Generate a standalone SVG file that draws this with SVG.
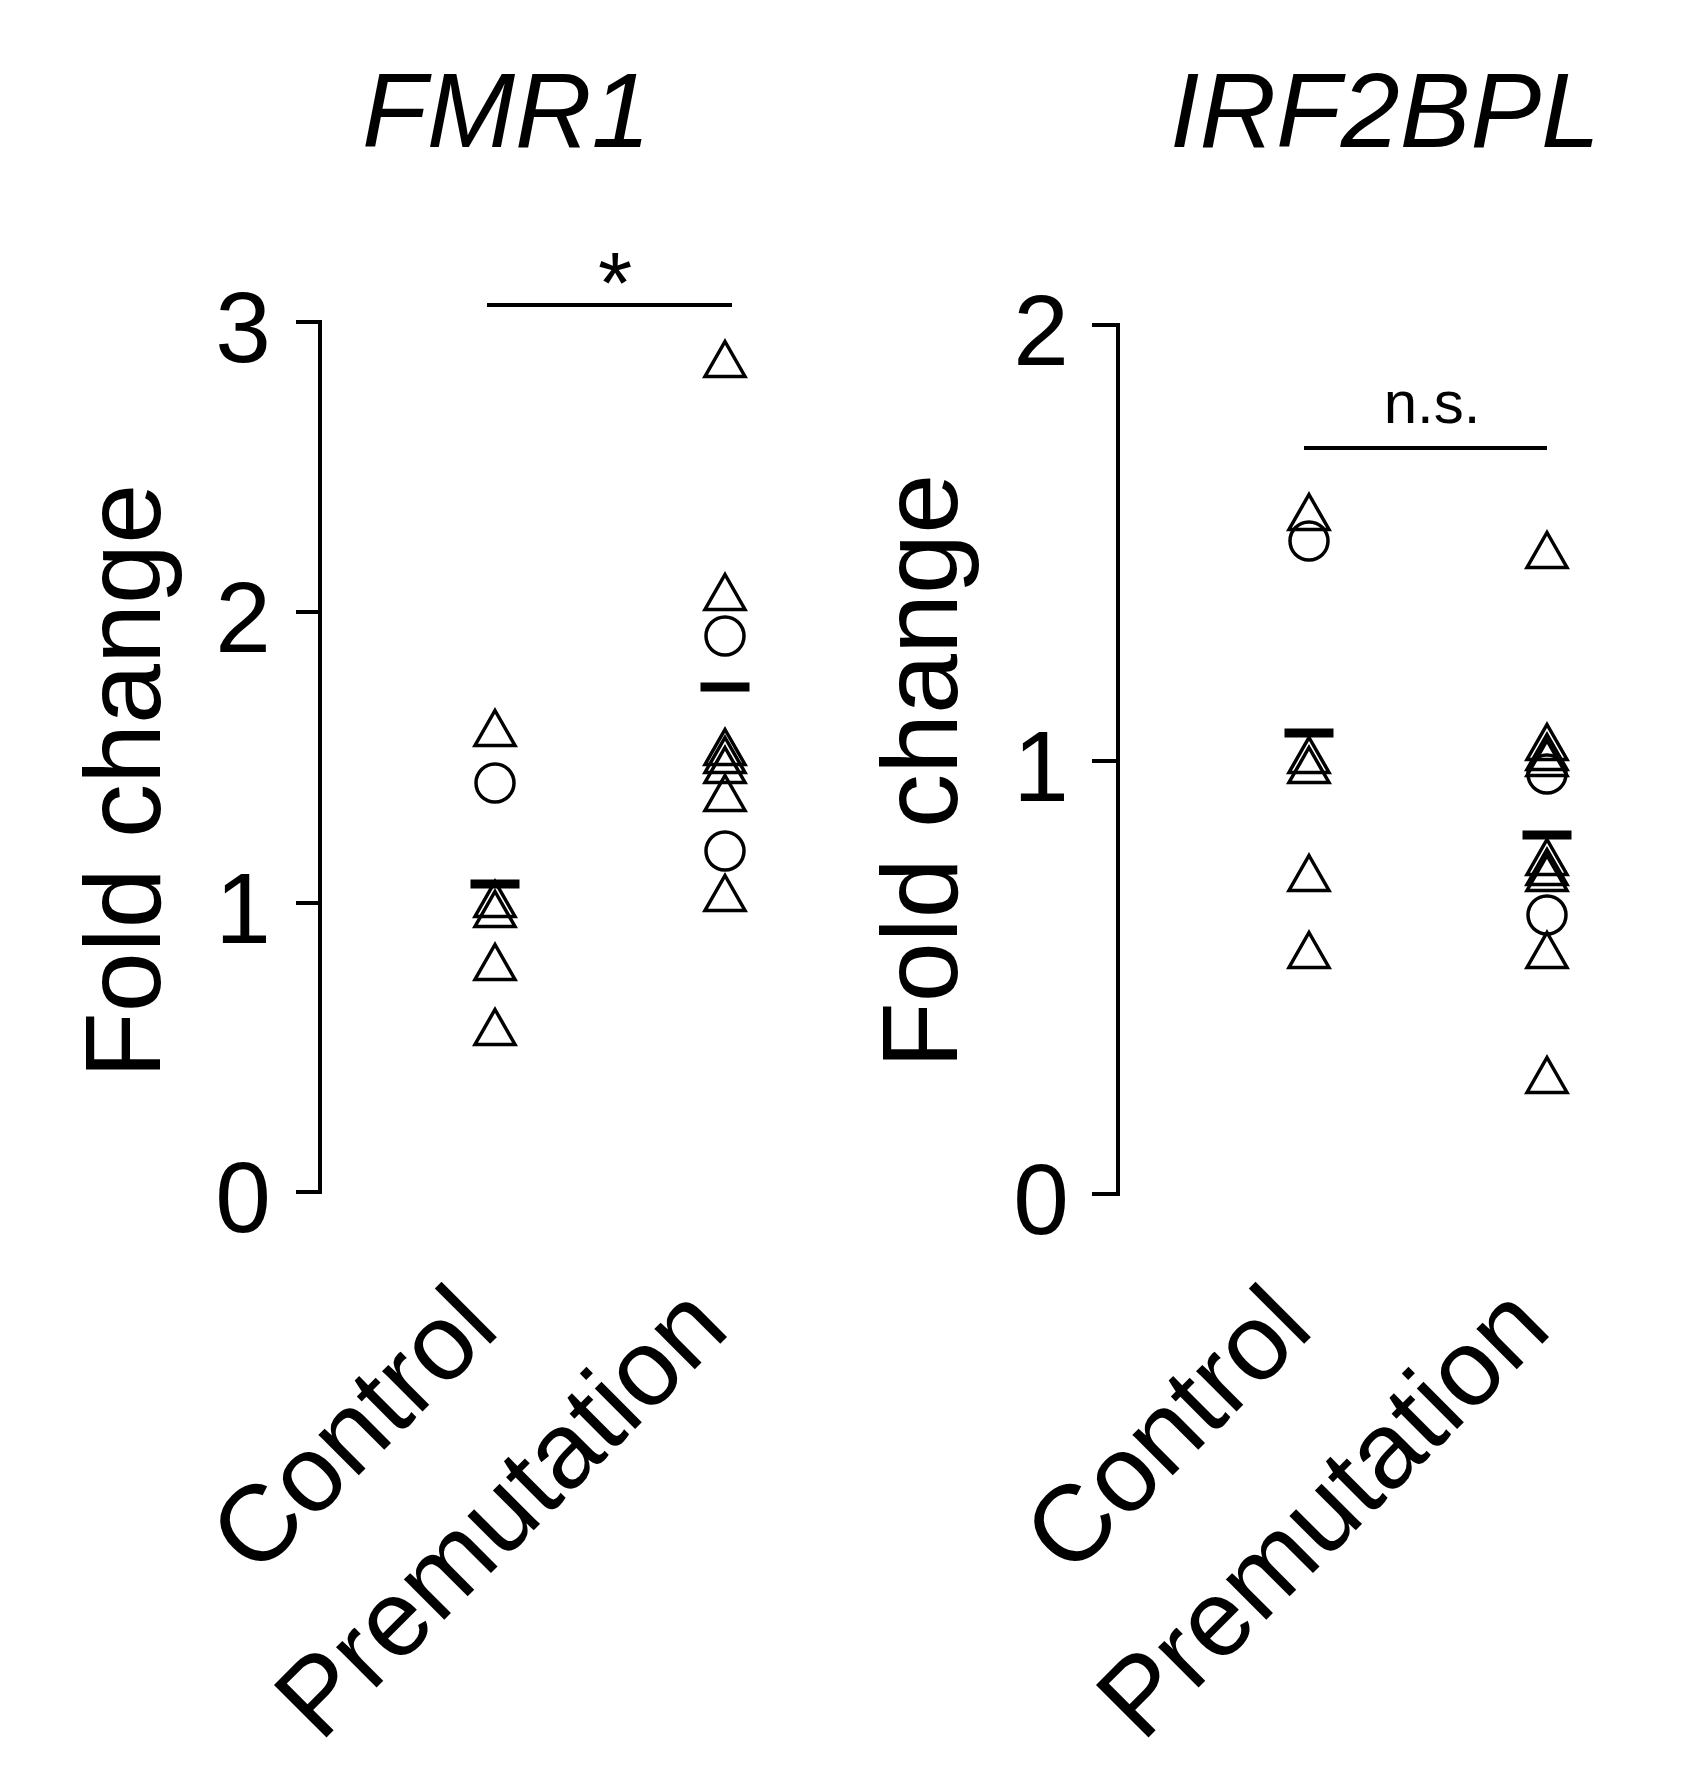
<svg xmlns="http://www.w3.org/2000/svg" width="1688" height="1776" viewBox="0 0 1688 1776">
<style>
text{font-family:"Liberation Sans",Arial,sans-serif;fill:#000}
.ax{stroke:#000;stroke-width:4;fill:none}
.t{fill:none;stroke:#000;stroke-width:3.5}
.m{fill:#000}
.tk{font-size:100px;text-anchor:middle}
.lab{font-size:108px;text-anchor:end}
.yl{font-size:108px;text-anchor:middle}
.ti{font-size:106px;font-style:italic}
</style>
<defs>
<path id="tri" d="M0,-17.5 L20,17.5 L-20,17.5 Z" class="t"/>
<circle id="cir" r="19" class="t"/>
</defs>
<text class="ti" x="362" y="147">FMR1</text>
<text class="ti" x="1170" y="147">IRF2BPL</text>
<g id="left-axis">
<path class="ax" d="M296,322 H320 V1192 H296 M296,612 H320 M296,903 H320"/>
<text class="tk" x="243" y="362">3</text>
<text class="tk" x="243" y="652">2</text>
<text class="tk" x="243" y="943">1</text>
<text class="tk" x="243" y="1232">0</text>
<text class="yl" transform="translate(160,781) rotate(-90)">Fold change</text>
</g>
<g id="right-axis">
<path class="ax" d="M1092,325 H1118 V1194 H1092 M1092,761 H1118"/>
<text class="tk" x="1041" y="365">2</text>
<text class="tk" x="1041" y="801">1</text>
<text class="tk" x="1041" y="1234">0</text>
<text class="yl" transform="translate(957,771) rotate(-90)">Fold change</text>
</g>
<g id="connectors">
<line x1="487" y1="305" x2="732" y2="305" class="ax" stroke-width="5"/>
<line x1="1304" y1="448" x2="1547" y2="448" class="ax" stroke-width="5"/>
</g>
<text x="615" y="313" font-size="88" text-anchor="middle">*</text>
<text x="1432" y="423" font-size="60" text-anchor="middle">n.s.</text>
<g id="fmr1-control">
<use href="#tri" x="495" y="728"/><use href="#cir" x="495" y="783"/>
<use href="#tri" x="495" y="899"/><use href="#tri" x="495" y="909"/>
<use href="#tri" x="495" y="962"/><use href="#tri" x="495" y="1027"/>
<rect class="m" x="470.5" y="879.5" width="49" height="9"/>
</g>
<g id="fmr1-premutation">
<use href="#tri" x="725" y="359"/><use href="#tri" x="725" y="592"/>
<use href="#cir" x="725" y="636"/>
<use href="#tri" x="725" y="747"/><use href="#tri" x="725" y="755"/><use href="#tri" x="725" y="765"/>
<use href="#tri" x="725" y="793"/><use href="#cir" x="725" y="851"/><use href="#tri" x="725" y="893"/>
<rect class="m" x="700.5" y="682.5" width="49" height="9"/>
</g>
<g id="irf-control">
<use href="#tri" x="1309" y="512"/><use href="#cir" x="1309" y="541"/>
<use href="#tri" x="1309" y="755"/><use href="#tri" x="1309" y="765"/>
<use href="#tri" x="1309" y="873"/><use href="#tri" x="1309" y="950"/>
<rect class="m" x="1284.5" y="728.5" width="49" height="9"/>
</g>
<g id="irf-premutation">
<use href="#tri" x="1547" y="550"/>
<use href="#tri" x="1547" y="742"/><use href="#tri" x="1547" y="752"/><use href="#tri" x="1547" y="758"/>
<use href="#cir" x="1547" y="774"/>
<use href="#tri" x="1547" y="857"/><use href="#tri" x="1547" y="867"/><use href="#tri" x="1547" y="873"/>
<use href="#cir" x="1547" y="915"/><use href="#tri" x="1547" y="950"/><use href="#tri" x="1547" y="1075"/>
<rect class="m" x="1522.5" y="830.5" width="49" height="9"/>
</g>
<g id="categories">
<text class="lab" transform="translate(502,1332) rotate(-45)">Control</text>
<text class="lab" transform="translate(732,1332) rotate(-45)">Premutation</text>
<text class="lab" transform="translate(1316,1332) rotate(-45)">Control</text>
<text class="lab" transform="translate(1554,1332) rotate(-45)">Premutation</text>
</g>
</svg>
